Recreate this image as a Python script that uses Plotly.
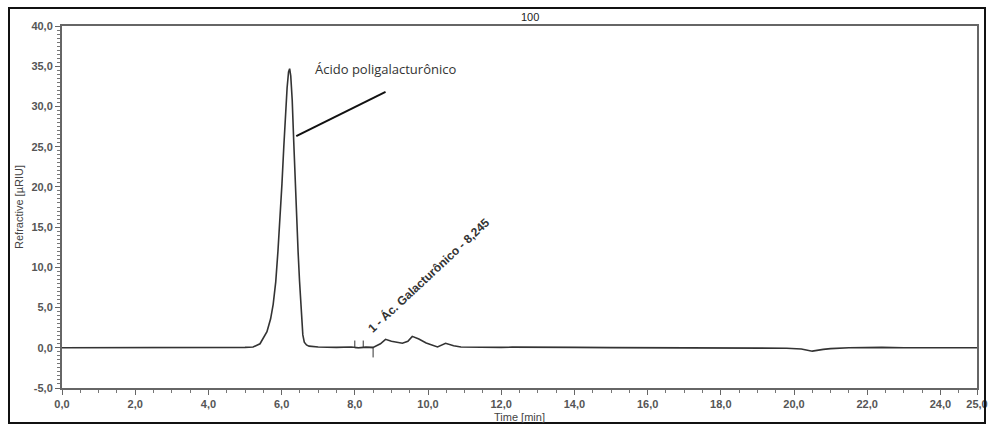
import plotly.graph_objects as go

# Chromatogram trace (time in min, signal in µRIU)
time_min = [0.0, 4.5, 5.0, 5.22, 5.41, 5.60, 5.70, 5.77, 5.84, 5.90, 5.96, 6.01, 6.06, 6.10,
            6.15, 6.19, 6.22, 6.25, 6.29, 6.33, 6.37, 6.41, 6.45, 6.49, 6.53, 6.56, 6.58,
            6.62, 6.68, 6.75, 7.0, 7.5, 7.9, 8.1, 8.3, 8.5, 8.7, 8.84, 9.0, 9.3, 9.45,
            9.57, 9.75, 9.95, 10.26, 10.48, 10.7, 10.9, 11.5, 12.0, 12.3, 13.0, 14.0,
            15.0, 16.0, 18.5, 19.0, 19.5, 19.8, 20.2, 20.5, 20.8, 21.0, 21.5, 22.0, 22.4,
            23.0, 25.0]
signal = [0.0, 0.0, 0.05, 0.1, 0.5, 2.0, 3.6, 5.4, 8.2, 12.0, 16.0, 20.4, 25.0, 28.6,
          32.3, 34.3, 34.7, 33.8, 30.8, 25.8, 20.4, 16.0, 12.0, 8.3, 5.4, 3.0, 1.6,
          0.7, 0.35, 0.2, 0.1, 0.05, 0.1, 0.0, 0.1, 0.05, 0.5, 1.05, 0.8, 0.57, 0.8,
          1.42, 1.1, 0.6, 0.1, 0.55, 0.25, 0.1, 0.05, 0.05, 0.08, 0.03, 0.05,
          0.02, 0.0, 0.0, -0.05, -0.1, -0.05, -0.15, -0.42, -0.2, -0.1, 0.0, 0.05, 0.05,
          0.0, 0.0]

# Integration markers of peak 1
marker_x = [8.0, 8.0, None, 8.23, 8.23, None, 8.5, 8.5, None, 8.0, 8.5]
marker_y = [0.0, 0.9, None, 0.0, 0.9, None, 0.0, -1.2, None, 0.0, 0.0]

# Leader line for the main peak label
leader_x = [6.4, 8.84]
leader_y = [26.3, 31.8]

x_ticks = [0, 2, 4, 6, 8, 10, 12, 14, 16, 18, 20, 22, 24, 25]
x_labels = ["0,0", "2,0", "4,0", "6,0", "8,0", "10,0", "12,0", "14,0", "16,0", "18,0",
            "20,0", "22,0", "24,0", "25,0"]
y_ticks = [-5, 0, 5, 10, 15, 20, 25, 30, 35, 40]
y_labels = ["-5,0", "0,0", "5,0", "10,0", "15,0", "20,0", "25,0", "30,0", "35,0", "40,0"]

fig = go.Figure()
fig.add_trace(go.Scatter(x=time_min, y=signal, mode="lines",
                         line=dict(color="#333333", width=1.6), showlegend=False))
fig.add_trace(go.Scatter(x=marker_x, y=marker_y, mode="lines",
                         line=dict(color="#333333", width=1), showlegend=False))
fig.add_trace(go.Scatter(x=leader_x, y=leader_y, mode="lines",
                         line=dict(color="#111111", width=2), showlegend=False))

fig.add_annotation(x=8.84, y=34.6, text="Ácido poligalacturônico", showarrow=False,
                   font=dict(family="Open Sans", size=13, color="#333333"))
fig.add_annotation(x=10.0, y=9.0, text="<b>1 - Ác. Galacturônico - 8,245</b>", showarrow=False,
                   textangle=-43, font=dict(family="Arial, Liberation Sans", size=12, color="#333333"))
fig.add_annotation(xref="paper", yref="paper", x=(530 - 62) / 915, y=(388 - 17) / 362,
                   yanchor="middle", xanchor="center",
                   text="100", showarrow=False,
                   font=dict(family="Arial, Liberation Sans", size=11, color="#222222"))

# outer frame
fig.add_shape(type="rect", xref="paper", yref="paper",
              x0=(9 - 62) / 915, x1=(985 - 62) / 915, y0=(388 - 423) / 362, y1=(388 - 8) / 362,
              line=dict(color="#111111", width=2))

tick_font = dict(family="Arial, Liberation Sans", size=11, color="#555555")
title_font = dict(family="Arial, Liberation Sans", size=11, color="#444444")
fig.update_layout(
    width=988, height=426,
    margin=dict(l=62, r=11, t=26, b=38),
    paper_bgcolor="white", plot_bgcolor="white",
    xaxis=dict(range=[0, 25], tickvals=x_ticks, ticktext=["<b>" + t + "</b>" for t in x_labels],
               showgrid=False, zeroline=False, automargin=False,
               showline=True, linecolor="#666666", linewidth=2, mirror=True,
               ticks="outside", ticklen=5, tickcolor="#666666", tickwidth=1,
               tickfont=tick_font,
               minor=dict(dtick=0.5, ticks="outside", ticklen=3, tickcolor="#777777"),
               title=dict(text="Time [min]", font=title_font, standoff=4)),
    yaxis=dict(range=[-5, 40], tickvals=y_ticks, ticktext=["<b>" + t + "</b>" for t in y_labels],
               showgrid=False, zeroline=False, automargin=False,
               showline=True, linecolor="#666666", linewidth=2, mirror=True,
               ticks="outside", ticklen=5, tickcolor="#666666", tickwidth=1,
               tickfont=tick_font,
               minor=dict(dtick=0.5, ticks="outside", ticklen=3, tickcolor="#777777"),
               title=dict(text="Refractive [µRIU]", font=title_font, standoff=6)),
)

fig.write_html("out.html", config={"displayModeBar": False},
               post_script="document.body.style.margin='0';")
